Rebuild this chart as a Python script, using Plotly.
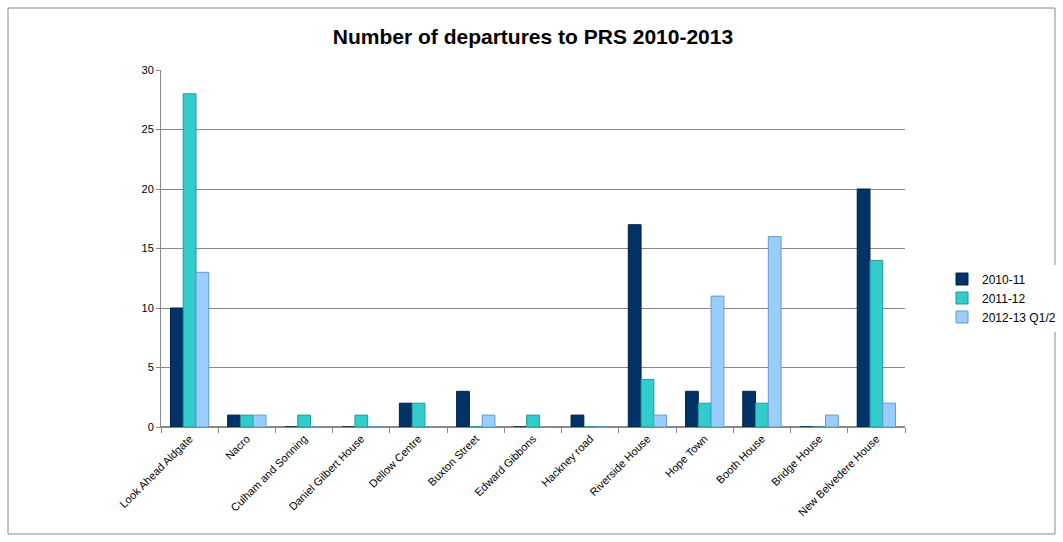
import plotly.graph_objects as go

categories = ["Look Ahead Aldgate", "Nacro", "Culham and Sonning", "Daniel Gilbert House",
              "Dellow Centre", "Buxton Street", "Edward Gibbons", "Hackney road",
              "Riverside House", "Hope Town", "Booth House", "Bridge House", "New Belvedere House"]
s2010 = [10, 1, 0, 0, 2, 3, 0, 1, 17, 3, 3, 0, 20]
s2011 = [28, 1, 1, 1, 2, 0, 1, 0, 4, 2, 2, 0, 14]
s2012 = [13, 1, 0, 0, 0, 1, 0, 0, 1, 11, 16, 1, 2]
series_names = ["2010-11", "2011-12", "2012-13 Q1/2"]
colors = ["#003366", "#33CCCC", "#99CCFF"]
line_colors = ["#002244", "#229999", "#6699CC"]
y_ticks = [0, 5, 10, 15, 20, 25, 30]

W, H = 1063, 542
L, R, T, B = 161, 158, 70, 115

fig = go.Figure()
for name, vals, c, lc in zip(series_names, [s2010, s2011, s2012], colors, line_colors):
    fig.add_trace(go.Bar(x=categories, y=vals, name=name, marker=dict(color=c, line=dict(color=lc, width=1))))

pw = W - L - R
ph = H - T - B
fig.add_shape(type="rect", xref="paper", yref="paper",
              x0=(8 - L) / pw, x1=(1055 - L) / pw,
              y0=(H - B - 534) / ph, y1=(H - B - 8) / ph,
              line=dict(color="#888888", width=1), fillcolor="rgba(0,0,0,0)", layer="below")

fig.update_layout(
    width=W, height=H,
    margin=dict(l=L, r=R, t=T, b=B, autoexpand=False),
    paper_bgcolor="white", plot_bgcolor="white",
    title=dict(text="<b>Number of departures to PRS 2010-2013</b>", x=0.5, xref="paper",
               y=1 - 37 / H, yanchor="middle", font=dict(family="Liberation Sans, Arial", size=21, color="black")),
    barmode="group", bargap=0.33, bargroupgap=0.0,
    font=dict(family="Liberation Sans, Arial", size=11, color="black"),
    legend=dict(x=(942 - L) / pw, y=(H - B - 298) / ph, xanchor="left", yanchor="middle",
                font=dict(size=12), itemwidth=30),
    xaxis=dict(tickangle=-45, tickfont=dict(size=11), showline=True, linecolor="#888888",
               ticks="outside", ticklen=5, tickcolor="#888888", showgrid=False,
               tickson="boundaries"),
    yaxis=dict(range=[0, 30], tickvals=y_ticks, showline=True, linecolor="#888888",
               ticks="outside", ticklen=4, tickcolor="#888888", showgrid=True,
               gridcolor="#888888", gridwidth=1, zeroline=True, zerolinecolor="#888888",
               tickfont=dict(size=11)),
)
fig.write_html("out.html")
